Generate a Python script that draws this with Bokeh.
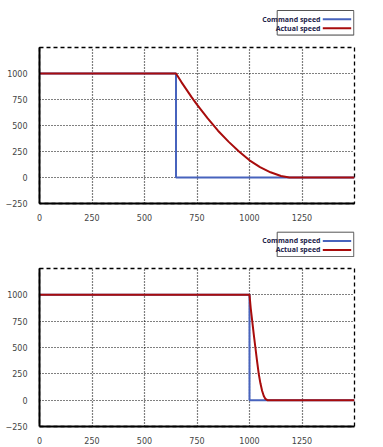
from bokeh.plotting import figure
from bokeh.models import Range1d, FixedTicker
from bokeh.layouts import column
from bokeh.embed import file_html
from bokeh.resources import INLINE
from bokeh.core.properties import value

# ---------------- data ----------------
x_ticks = [0, 250, 500, 750, 1000, 1250]
y_ticks = [-250, 0, 250, 500, 750, 1000]
series_names = ["Command speed", "Actual speed"]

top_cmd_x = [0, 650, 650, 1500]
top_cmd_y = [1000, 1000, 0, 0]
top_act_x = [0, 650, 675, 700, 725, 750, 800, 850, 900, 950, 1000, 1050, 1100, 1150, 1190, 1500]
top_act_y = [1000, 1000, 920, 845, 770, 700, 570, 450, 345, 250, 165, 100, 50, 15, 0, 0]

bot_cmd_x = [0, 1000, 1000, 1500]
bot_cmd_y = [1000, 1000, 0, 0]
bot_act_x = [0, 1000, 1006, 1013, 1020, 1028, 1036, 1044, 1052, 1060, 1068, 1076, 1085, 1500]
bot_act_y = [1000, 1000, 870, 750, 630, 500, 370, 250, 160, 90, 40, 12, 0, 0]

BLUE = "#4763bd"
RED = "#a80c0c"
LB, FW, RB = 39, 315, 20   # left border, frame width, right border


def make_legend(height, box_top):
    # x in pixels from the layout's left edge, y in pixels downward
    p = figure(frame_width=FW, frame_height=height,
               x_range=Range1d(LB, LB + FW), y_range=Range1d(height, 0),
               min_border_left=LB, min_border_right=RB,
               min_border_top=0, min_border_bottom=0,
               x_axis_location=None, y_axis_location=None,
               toolbar_location=None, output_backend="svg",
               outline_line_color=None)
    p.grid.visible = False
    p.quad(left=[278], right=[354], top=[box_top + 1], bottom=[box_top + 25.5],
           fill_color="#d4d4d4", line_color=None)
    p.quad(left=[276.7], right=[353.3], top=[box_top], bottom=[box_top + 24.5],
           fill_color="white", line_color="#555555", line_width=1)
    ys = [box_top + 8.7, box_top + 17.7]
    for name, col, yy in zip(series_names, [BLUE, RED], ys):
        p.line([322.3, 350.7], [yy, yy], line_color=col, line_width=2)
        p.text(x=[320], y=[yy], text=[name], text_align="right",
               text_baseline="middle", text_font=value("Open Sans"),
               text_font_size="7px", text_color="#22224a", text_font_style="bold")
    return p


def make_main(cx, cy, ax, ay, frame_h, top_b, bot_b):
    p = figure(frame_width=FW, frame_height=frame_h,
               x_range=Range1d(0, 1500), y_range=Range1d(-250, 1250),
               min_border_left=LB, min_border_right=RB,
               min_border_top=top_b, min_border_bottom=bot_b,
               toolbar_location=None, output_backend="svg")
    p.line(cx, cy, line_color=BLUE, line_width=2)
    p.line(ax, ay, line_color=RED, line_width=2)
    p.xaxis.ticker = FixedTicker(ticks=x_ticks)
    p.yaxis.ticker = FixedTicker(ticks=y_ticks)
    for ax_ in (p.xaxis, p.yaxis):
        ax_.major_tick_line_color = None
        ax_.minor_tick_line_color = None
        ax_.axis_line_color = "black"
        ax_.axis_line_width = 2
        ax_.major_label_text_font = "DejaVu Sans"
        ax_.major_label_text_font_size = "8px"
        ax_.major_label_text_color = "#444444"
    p.xaxis.major_label_standoff = 4
    p.yaxis.major_label_standoff = 6
    for g in (p.xgrid, p.ygrid):
        g.grid_line_color = "black"
        g.grid_line_dash = "1 2"
        g.grid_line_width = 1.2
        g.grid_line_alpha = 1
    p.outline_line_color = "black"
    p.outline_line_dash = "4 3"
    p.outline_line_width = 1.3
    p.outline_line_alpha = 1
    return p


leg1 = make_legend(37, 10)
main1 = make_main(top_cmd_x, top_cmd_y, top_act_x, top_act_y, 156, 10, 24)
leg2 = make_legend(30, 4.7)
main2 = make_main(bot_cmd_x, bot_cmd_y, bot_act_x, bot_act_y, 158, 11, 16)

layout = column(leg1, main1, leg2, main2, spacing=0)
open("out.html", "w").write(file_html(layout, INLINE))
